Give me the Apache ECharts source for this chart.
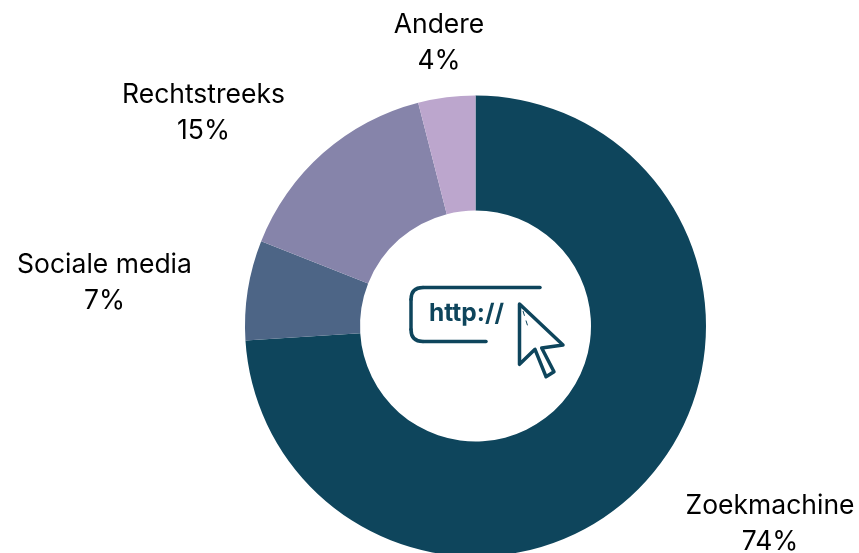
<!DOCTYPE html>
<html>
<head>
<meta charset="utf-8">
<style>
  html, body { margin: 0; padding: 0; background: #ffffff; overflow: hidden; }
  #chart { width: 859px; height: 553px; }
</style>
<script src="https://cdn.jsdelivr.net/npm/echarts@6/dist/echarts.min.js"></script>
</head>
<body>
<div id="chart"></div>
<script>
const categories = ['Zoekmachine', 'Sociale media', 'Rechtstreeks', 'Andere']
const values = [74, 7, 15, 4]
const colors = ['#0e455c', '#4d6586', '#8684aa', '#bca6cd']
// label centres, same order as categories
const labelSpots = [[770, 524], [104.5, 283], [203.5, 113], [439, 43]]

const iconColor = '#0e455c'
const iconStroke = { fill: null, stroke: iconColor, lineWidth: 3.5, lineCap: 'round' }
const chart = echarts.init(document.getElementById('chart'), null, { renderer: 'canvas' })

chart.setOption({
  animation: false,
  series: [
    {
      type: 'pie',
      center: [475.5, 326],
      radius: [115.5, 230.5],
      startAngle: 90,
      clockwise: true,
      silent: true,
      data: categories.map((name, i) => ({
        name,
        value: values[i],
        itemStyle: { color: colors[i] },
      })),
      label: {
        show: true,
        position: 'inside',
        rotate: 0,
        formatter: (p) => `${p.name}\n${p.value}%`,
        color: '#000000',
        fontFamily: 'Inter, sans-serif',
        fontSize: 26.5,
        lineHeight: 36,
        align: 'center',
        verticalAlign: 'middle',
      },
      labelLine: { show: false },
      labelLayout: (params) => ({
        x: labelSpots[params.dataIndex][0],
        y: labelSpots[params.dataIndex][1],
        align: 'center',
        verticalAlign: 'middle',
      }),
    },
  ],
  graphic: [
    {
      type: 'polyline',
      shape: { points: [[540, 287.5], [423, 287.5]] },
      style: iconStroke,
    },
    {
      type: 'bezierCurve',
      shape: { x1: 423, y1: 287.5, cpx1: 411, cpy1: 287.5, x2: 411, y2: 299.5 },
      style: iconStroke,
    },
    {
      type: 'polyline',
      shape: { points: [[411, 299.5], [411, 329.5]] },
      style: iconStroke,
    },
    {
      type: 'bezierCurve',
      shape: { x1: 411, y1: 329.5, cpx1: 411, cpy1: 341.5, x2: 423, y2: 341.5 },
      style: iconStroke,
    },
    {
      type: 'polyline',
      shape: { points: [[423, 341.5], [486, 341.5]] },
      style: iconStroke,
    },
    {
      type: 'text',
      x: 466.5,
      y: 314,
      style: {
        text: 'http://',
        fill: iconColor,
        font: 'bold 24.5px Inter, sans-serif',
        align: 'center',
        verticalAlign: 'middle',
      },
    },
    {
      type: 'polygon',
      shape: {
        points: [[519.5, 304], [563, 345], [541.7, 348], [554, 371.7], [546, 376.7], [535, 349.3], [519.5, 364.3]],
      },
      style: { fill: '#ffffff', stroke: iconColor, lineWidth: 3.5, lineJoin: 'round' },
    },
    {
      type: 'line',
      shape: { x1: 523, y1: 311, x2: 528, y2: 327 },
      style: { stroke: iconColor, lineWidth: 1, lineDash: [5, 5] },
    },
  ],
})
</script>
</body>
</html>
